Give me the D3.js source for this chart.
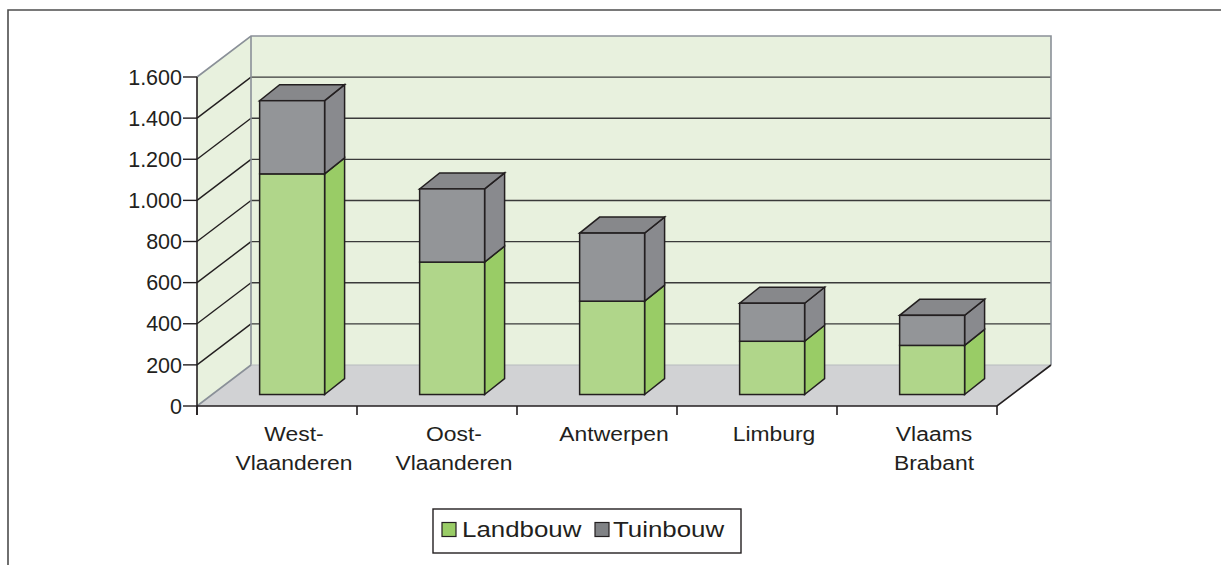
<!DOCTYPE html>
<html>
<head>
<meta charset="utf-8">
<script src="https://cdn.jsdelivr.net/npm/d3@7"></script>
<style>
  html, body { margin: 0; padding: 0; background: #ffffff; }
  svg { display: block; }
  text { font-family: "Liberation Sans", Arial, Helvetica, sans-serif; fill: #231f20; }
</style>
</head>
<body>
<svg id="chart" width="1221" height="565"></svg>
<script>
// ---- data ----
const categories = [["West-", "Vlaanderen"], ["Oost-", "Vlaanderen"], ["Antwerpen"], ["Limburg"], ["Vlaams", "Brabant"]];
const landbouw = [1073, 644, 454, 259, 239];
const tuinbouw = [356, 356, 331, 185, 146];
const seriesNames = ["Landbouw", "Tuinbouw"];
const yTicks = [0, 200, 400, 600, 800, 1000, 1200, 1400, 1600];
const yTickLabels = ["0", "200", "400", "600", "800", "1.000", "1.200", "1.400", "1.600"];

// ---- layout ----
const svg = d3.select("#chart");
const X0 = 197, X1 = 997;
const DX = 54, DY = -41;          // depth offset of back wall
const BAR_F = 0.28;               // bar front depth fraction
const BDX = 20, BDY = -16;        // bar depth

const y = d3.scaleLinear().domain([0, 1600]).range([406, 77]);
const keys = categories.map((c, i) => "c" + i);
const x = d3.scaleBand().domain(keys).range([X0, X1]).paddingInner(0).paddingOuter(0);
const barW = x.bandwidth() * 0.406;

const colors = {
  wall: "#e8f1de", floor: "#d1d2d4", wallEdge: "#8a9098", ink: "#231f20",
  greenFront: "#b0d68a", greenSide: "#99cc66", greenTop: "#a6d17a",
  grayFront: "#939598", graySide: "#898a8e", grayTop: "#87888b",
  legGreen: "#99cc66", legGray: "#808285"
};

// outer frame
svg.append("path").attr("d", `M8,566 L8,10 L1222,10`).attr("fill", "none")
  .attr("stroke", "#4d4d4d").attr("stroke-width", 1.6);

// back wall
svg.append("rect").attr("x", X0 + DX).attr("y", y(1600) + DY)
  .attr("width", X1 - X0).attr("height", y(0) - y(1600)).attr("fill", colors.wall);
// left wall
svg.append("path").attr("d", `M${X0},${y(1600)} L${X0 + DX},${y(1600) + DY} L${X0 + DX},${y(0) + DY} L${X0},${y(0)} Z`)
  .attr("fill", colors.wall);
// floor
svg.append("path").attr("d", `M${X0},${y(0)} L${X1},${y(0)} L${X1 + DX},${y(0) + DY} L${X0 + DX},${y(0) + DY} Z`)
  .attr("fill", colors.floor);

// gridlines
const inner = yTicks.filter(v => v > 0 && v < 1600);
svg.append("g").selectAll("line.bg").data(inner).join("line")
  .attr("x1", X0 + DX).attr("x2", X1 + DX)
  .attr("y1", d => y(d) + DY).attr("y2", d => y(d) + DY)
  .attr("stroke", "#3a3a3a").attr("stroke-width", 1.4);
svg.append("g").selectAll("line.lg").data(inner).join("line")
  .attr("x1", X0).attr("x2", X0 + DX)
  .attr("y1", d => y(d)).attr("y2", d => y(d) + DY)
  .attr("stroke", "#231f20").attr("stroke-width", 1.4);

// wall edges (gray)
const edge = svg.append("g").attr("fill", "none").attr("stroke", colors.wallEdge).attr("stroke-width", 1.6);
edge.append("path").attr("d", `M${X0},${y(1600)} L${X0 + DX},${y(1600) + DY} L${X1 + DX},${y(1600) + DY} L${X1 + DX},${y(0) + DY}`);
edge.append("path").attr("d", `M${X0 + DX},${y(1600) + DY} L${X0 + DX},${y(0) + DY} L${X0},${y(0)}`);
svg.append("line").attr("x1", X0 + DX).attr("x2", X1 + DX).attr("y1", y(0) + DY).attr("y2", y(0) + DY)
  .attr("stroke", "#b8bbbe").attr("stroke-width", 1);
// floor front/right edges
svg.append("path").attr("d", `M${X0},${y(0)} L${X1},${y(0)} L${X1 + DX},${y(0) + DY}`)
  .attr("fill", "none").attr("stroke", colors.ink).attr("stroke-width", 1.6);

// bars
const fx = BAR_F * DX, fy = BAR_F * DY;
const barG = svg.append("g").attr("stroke", colors.ink).attr("stroke-width", 1.5).attr("stroke-linejoin", "miter");
keys.forEach((k, i) => {
  const bx = x(k) + (x.bandwidth() - barW) / 2 + fx;
  const segs = [
    { v0: 0, v1: landbouw[i], front: colors.greenFront, side: colors.greenSide, top: colors.greenTop },
    { v0: landbouw[i], v1: landbouw[i] + tuinbouw[i], front: colors.grayFront, side: colors.graySide, top: colors.grayTop }
  ];
  segs.forEach((s, si) => {
    const yb = y(s.v0) + fy, yt = y(s.v1) + fy;
    barG.append("path").attr("fill", s.side)
      .attr("d", `M${bx + barW},${yb} L${bx + barW + BDX},${yb + BDY} L${bx + barW + BDX},${yt + BDY} L${bx + barW},${yt} Z`);
    if (si === segs.length - 1) {
      barG.append("path").attr("fill", s.top)
        .attr("d", `M${bx},${yt} L${bx + barW},${yt} L${bx + barW + BDX},${yt + BDY} L${bx + BDX},${yt + BDY} Z`);
    }
    barG.append("rect").attr("fill", s.front)
      .attr("x", bx).attr("y", yt).attr("width", barW).attr("height", yb - yt);
  });
});

// y axis
svg.append("line").attr("x1", X0).attr("x2", X0).attr("y1", y(1600)).attr("y2", y(0) + 9)
  .attr("stroke", colors.ink).attr("stroke-width", 1.6);
const yt = svg.append("g");
yt.selectAll("line").data(yTicks).join("line")
  .attr("x1", 183).attr("x2", X0).attr("y1", d => y(d)).attr("y2", d => y(d))
  .attr("stroke", colors.ink).attr("stroke-width", 1.4);
yt.selectAll("text").data(yTicks).join("text")
  .attr("x", 182).attr("y", d => y(d)).attr("dy", "0.36em")
  .attr("text-anchor", "end").attr("font-size", 21.5)
  .text((d, i) => yTickLabels[i]);

// x ticks
const xt = d3.range(keys.length + 1).map(i => X0 + i * x.step());
svg.append("g").selectAll("line").data(xt).join("line")
  .attr("x1", d => d).attr("x2", d => d).attr("y1", y(0)).attr("y2", y(0) + 9)
  .attr("stroke", colors.ink).attr("stroke-width", 1.6);

// category labels
const labG = svg.append("g");
keys.forEach((k, i) => {
  const cx = x(k) + x.bandwidth() / 2 + 17;
  const t = labG.append("text").attr("text-anchor", "middle").attr("font-size", 21)
    .attr("transform", `translate(${cx},0) scale(1.09,1)`);
  categories[i].forEach((line, li) => {
    t.append("tspan").attr("x", 0).attr("y", 441 + li * 29).text(line);
  });
});

// legend
const leg = svg.append("g");
leg.append("rect").attr("x", 433).attr("y", 509).attr("width", 308).attr("height", 44)
  .attr("fill", "#fff").attr("stroke", colors.ink).attr("stroke-width", 1.4);
const legItems = [
  { name: seriesNames[0], color: colors.legGreen, x: 442, tx: 462 },
  { name: seriesNames[1], color: colors.legGray, x: 595, tx: 613 }
];
legItems.forEach(it => {
  leg.append("rect").attr("x", it.x).attr("y", 522.5).attr("width", 14).attr("height", 14)
    .attr("fill", it.color).attr("stroke", colors.ink).attr("stroke-width", 1.2);
  leg.append("text").attr("font-size", 22.5)
    .attr("transform", `translate(${it.tx},537) scale(1.15,1)`).text(it.name);
});
</script>
</body>
</html>
